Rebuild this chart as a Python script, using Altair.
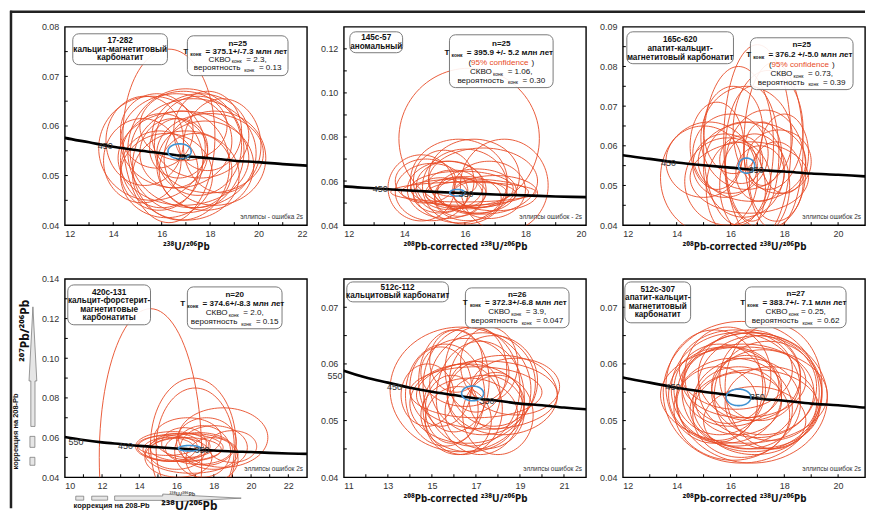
import numpy as np
import pandas as pd
import altair as alt

FONT = "Liberation Sans"
SUPFONT = "Noto Sans"
W, H = 243, 199
RED = "#e84b26"
BLUE = "#3f92d2"
INK = "#111111"
FS = 8.1
SFS = 5.0
LFS = 8.2

# Concordia curve
CONC_X = [10, 11, 12, 13, 14, 15, 16, 17, 18, 19, 20, 21, 22, 23]
CONC_Y = [0.0603, 0.0588, 0.0576, 0.0567, 0.0558, 0.0551, 0.0545, 0.0539,
          0.0535, 0.0530, 0.0527, 0.0523, 0.0520, 0.0518]

# Panel 1: 17-282
P1_CX = [15.6, 18.2, 17.0, 16.8, 16.3, 17.5, 16.0, 17.8, 16.6, 15.9, 17.3, 16.5, 18.5,
         15.3, 17.0, 16.9, 17.6, 16.2, 18.0, 16.7, 15.8, 17.4, 17.9, 15.2, 16.9]
P1_CY = [0.0555, 0.0535, 0.0550, 0.0520, 0.0580, 0.0560, 0.0530, 0.0520, 0.0570, 0.0510,
         0.0545, 0.0545, 0.0560, 0.0570, 0.0500, 0.0600, 0.0580, 0.0500, 0.0545, 0.0555,
         0.0590, 0.0510, 0.0590, 0.0530, 0.0535]
P1_RX = [2.2, 2.1, 2.4, 2.0, 1.9, 1.8, 1.7, 2.0, 2.3, 1.6, 2.6, 1.4, 1.6, 1.6, 2.2, 1.8,
         2.0, 1.9, 2.2, 1.2, 1.5, 1.5, 1.4, 1.6, 2.7]
P1_RY = [0.0105, 0.0095, 0.0125, 0.0110, 0.0175, 0.0100, 0.0095, 0.0090, 0.0095, 0.0080,
         0.0110, 0.0070, 0.0095, 0.0090, 0.0090, 0.0070, 0.0085, 0.0085, 0.0080, 0.0060,
         0.0075, 0.0075, 0.0080, 0.0085, 0.0095]

# Panel 2: 145c-57
P2_CX = [16.14, 14.56, 17.30, 15.80, 16.30, 15.40, 16.00, 15.90, 16.40, 15.20, 16.80, 15.70,
         15.50, 16.20, 14.90, 16.60, 15.80, 16.00, 15.60, 17.00, 15.30, 16.10, 14.70, 16.50, 15.95]
P2_CY = [0.0793, 0.0569, 0.0580, 0.0600, 0.0620, 0.0560, 0.0550, 0.0565, 0.0555, 0.0535,
         0.0560, 0.0545, 0.0580, 0.0540, 0.0550, 0.0600, 0.0530, 0.0575, 0.0590, 0.0545,
         0.0600, 0.0520, 0.0600, 0.0540, 0.0550]
P2_RX = [2.32, 1.10, 1.45, 1.60, 1.50, 1.30, 2.10, 1.70, 1.30, 0.90, 1.20, 1.00, 1.10, 1.50,
         1.20, 1.80, 0.80, 1.40, 0.80, 1.40, 1.00, 1.10, 1.00, 0.90, 2.40]
P2_RY = [0.0319, 0.0150, 0.0210, 0.0190, 0.0170, 0.0130, 0.0060, 0.0080, 0.0100, 0.0080,
         0.0130, 0.0070, 0.0110, 0.0060, 0.0130, 0.0150, 0.0090, 0.0170, 0.0060, 0.0080,
         0.0140, 0.0100, 0.0100, 0.0060, 0.0045]

# Panel 3: 165c-620
P3_CX = [17.00, 17.60, 16.30, 15.20, 16.80, 16.50, 17.80, 16.00, 16.90, 16.20, 17.30, 15.80,
         16.60, 17.10, 16.40, 18.00, 15.50, 16.70, 17.40, 16.10, 15.90, 17.20, 16.80, 15.00, 17.70]
P3_CY = [0.0610, 0.0600, 0.0600, 0.0520, 0.0560, 0.0540, 0.0560, 0.0580, 0.0500, 0.0490,
         0.0540, 0.0550, 0.0620, 0.0530, 0.0565, 0.0580, 0.0600, 0.0520, 0.0640, 0.0640,
         0.0510, 0.0580, 0.0580, 0.0560, 0.0510]
P3_RX = [1.25, 1.10, 1.30, 1.80, 2.00, 1.50, 1.20, 1.40, 1.30, 1.10, 1.50, 1.20, 1.70, 0.90,
         0.80, 0.90, 1.00, 2.20, 1.30, 1.10, 1.60, 0.70, 1.00, 1.40, 1.00]
P3_RY = [0.0245, 0.0210, 0.0200, 0.0140, 0.0100, 0.0120, 0.0080, 0.0100, 0.0130, 0.0120,
         0.0150, 0.0080, 0.0130, 0.0070, 0.0060, 0.0100, 0.0110, 0.0090, 0.0150, 0.0110,
         0.0110, 0.0080, 0.0170, 0.0090, 0.0100]

# Panel 4: 420c-131
P4_CX = [14.60, 16.90, 17.00, 18.50, 16.20, 16.50, 15.80, 17.20, 16.00, 17.60, 15.60, 16.80,
         18.00, 15.50, 16.40, 17.40, 16.60, 19.00, 16.10, 17.90]
P4_CY = [0.0500, 0.0560, 0.0550, 0.0600, 0.0550, 0.0540, 0.0555, 0.0545, 0.0530, 0.0580,
         0.0540, 0.0520, 0.0550, 0.0560, 0.0570, 0.0530, 0.0600, 0.0555, 0.0500, 0.0490]
P4_RX = [2.75, 2.30, 2.10, 2.40, 2.30, 1.90, 2.00, 1.80, 1.50, 1.60, 1.40, 2.50, 1.80, 1.60,
         1.20, 1.50, 1.80, 1.30, 1.80, 1.40]
P4_RY = [0.0750, 0.0340, 0.0300, 0.0150, 0.0070, 0.0060, 0.0075, 0.0080, 0.0090, 0.0120,
         0.0060, 0.0100, 0.0110, 0.0050, 0.0080, 0.0130, 0.0100, 0.0080, 0.0100, 0.0110]

# Panel 5: 512c-112
P5_CX = [16.30, 17.50, 16.80, 17.20, 16.40, 17.80, 16.00, 18.20, 15.60, 17.00, 16.60, 17.40,
         15.40, 18.80, 16.90, 17.60, 16.20, 17.00, 18.00, 16.50, 15.90, 17.30, 14.80, 17.90,
         16.70, 16.10]
P5_CY = [0.0555, 0.0545, 0.0560, 0.0540, 0.0520, 0.0570, 0.0570, 0.0545, 0.0545, 0.0590,
         0.0530, 0.0515, 0.0560, 0.0560, 0.0545, 0.0600, 0.0500, 0.0550, 0.0510, 0.0585,
         0.0520, 0.0565, 0.0545, 0.0535, 0.0510, 0.0605]
P5_RX = [3.20, 3.20, 2.20, 2.00, 1.80, 2.00, 1.60, 2.50, 1.80, 1.40, 2.60, 1.80, 1.40, 2.00,
         1.20, 1.30, 1.50, 3.00, 1.60, 2.00, 1.20, 2.40, 1.20, 1.20, 2.20, 1.20]
P5_RY = [0.0110, 0.0060, 0.0105, 0.0100, 0.0080, 0.0080, 0.0090, 0.0070, 0.0090, 0.0075,
         0.0070, 0.0065, 0.0070, 0.0050, 0.0060, 0.0065, 0.0060, 0.0045, 0.0070, 0.0060,
         0.0060, 0.0090, 0.0055, 0.0050, 0.0065, 0.0055]

# Panel 6: 512c-307
P6_CX = [16.40, 16.80, 16.20, 17.00, 15.80, 16.60, 17.20, 16.00, 16.50, 16.90, 15.60, 17.40,
         16.30, 16.70, 16.10, 17.10, 15.90, 16.80, 16.40, 17.50, 15.50, 16.60, 17.60, 15.40,
         16.20, 16.90, 16.50]
P6_CY = [0.0550, 0.0540, 0.0555, 0.0560, 0.0545, 0.0530, 0.0550, 0.0560, 0.0570, 0.0520,
         0.0555, 0.0545, 0.0535, 0.0580, 0.0520, 0.0575, 0.0580, 0.0550, 0.0510, 0.0530,
         0.0530, 0.0560, 0.0560, 0.0560, 0.0590, 0.0500, 0.0545]
P6_RX = [2.90, 2.80, 2.40, 2.20, 2.10, 2.00, 1.90, 1.80, 2.30, 2.40, 1.70, 2.00, 1.60, 1.90,
         2.20, 1.50, 1.60, 2.60, 1.80, 1.70, 1.50, 1.30, 1.80, 1.80, 2.10, 1.90, 3.10]
P6_RY = [0.0125, 0.0115, 0.0100, 0.0090, 0.0085, 0.0080, 0.0075, 0.0070, 0.0065, 0.0070,
         0.0080, 0.0095, 0.0060, 0.0080, 0.0090, 0.0075, 0.0085, 0.0105, 0.0075, 0.0065,
         0.0065, 0.0055, 0.0110, 0.0100, 0.0070, 0.0060, 0.0085]

# Concordia-age (blue) ellipses, one per panel
BLUE_CX = [16.74, 15.75, 16.60, 16.70, 16.85, 16.30]
BLUE_CY = [0.0549, 0.0547, 0.0550, 0.0546, 0.0548, 0.0541]
BLUE_RX = [0.48, 0.25, 0.30, 0.60, 0.50, 0.46]
BLUE_RY = [0.0015, 0.0015, 0.0019, 0.0014, 0.0013, 0.00146]

# Age labels on the concordia
AGE_X = [[13.67, 16.88], [13.2, 16.04], [13.7, 16.96], [10.6, 13.26, 17.36],
         [10.6, 13.3, 17.5], [13.86, 17.0]]
AGE_Y = [[0.0559, 0.0537], [0.0563, 0.0543], [0.0557, 0.0540], [0.0580, 0.0555, 0.0538],
         [0.0578, 0.0559, 0.0535], [0.0559, 0.0541]]
AGE_T = [["450", "350"], ["450", "350"], ["450", "350"], ["550", "450", "350"],
         ["550", "450", "350"], ["450", "350"]]

SUB = "конк"
PANELS = [
    dict(cx=P1_CX, cy=P1_CY, rx=P1_RX, ry=P1_RY, xd=[12, 22], yd=[0.04, 0.08],
         xt=[12, 14, 16, 18, 20, 22], yt=[0.04, 0.05, 0.06, 0.07, 0.08], ystep=0.005,
         xtitle="²³⁸U/²⁰⁶Pb", note="эллипсы - ошибка 2s",
         lbox=(8, 7, 103, 38), lcx=55.5,
         llines=[(14.5, "17-282"), (23, "кальцит-магнетитовый"), (31.5, "карбонатит")],
         sbox=(123, 9, 224, 49), scx=173.5,
         slines=[(17, True, [("n=25", "n")]),
                 (25, True, [("T", "n"), (SUB, "s"), (" = 375.1+/-7.3 млн лет", "n")]),
                 (33, False, [("СКВО", "n"), (SUB, "s"), (" = 2.3,", "n")]),
                 (41.5, False, [("вероятность", "n"), (SUB, "s"), (" = 0.13", "n")])]),
    dict(cx=P2_CX, cy=P2_CY, rx=P2_RX, ry=P2_RY, xd=[12, 20], yd=[0.04, 0.13],
         xt=[12, 14, 16, 18, 20], yt=[0.04, 0.06, 0.08, 0.10, 0.12], ystep=0.01,
         xtitle="²⁰⁸Pb-corrected ²³⁸U/²⁰⁶Pb", note="эллипсы ошибок - 2s",
         lbox=(6, 5, 59, 26), lcx=32.5,
         llines=[(11.5, "145c-57"), (20, "аномальный")],
         sbox=(106, 8, 210, 61), scx=158,
         slines=[(17, True, [("n=25", "n")]),
                 (26, True, [("T", "n"), (SUB, "s"), (" = 395.9 +/- 5.2 млн лет", "n")]),
                 (36.5, False, [("(", "n"), ("95% confidence", "r"), (")", "n")]),
                 (45.5, False, [("СКВО", "n"), (SUB, "s"), (" = 1.06,", "n")]),
                 (54, False, [("вероятность", "n"), (SUB, "s"), (" = 0.30", "n")])]),
    dict(cx=P3_CX, cy=P3_CY, rx=P3_RX, ry=P3_RY, xd=[12, 21], yd=[0.04, 0.09],
         xt=[12, 14, 16, 18, 20], yt=[0.04, 0.05, 0.06, 0.07, 0.08, 0.09], ystep=0.005,
         xtitle="²⁰⁸Pb-corrected ²³⁸U/²⁰⁶Pb", note="эллипсы ошибок 2s",
         lbox=(4, 5, 111, 37), lcx=57.5,
         llines=[(13, "165c-620"), (22.5, "апатит-кальцит-"), (31, "магнетитовый карбонатит")],
         sbox=(128, 11, 231, 63), scx=179.5,
         slines=[(18.5, True, [("n=25", "n")]),
                 (28, True, [("T", "n"), (SUB, "s"), (" = 376.2 +/-5.0 млн лет", "n")]),
                 (38, False, [("(", "n"), ("95% confidence", "r"), (")", "n")]),
                 (47.5, False, [("СКВО", "n"), (SUB, "s"), (" = 0.73,", "n")]),
                 (56, False, [("вероятность", "n"), (SUB, "s"), (" = 0.39", "n")])]),
    dict(cx=P4_CX, cy=P4_CY, rx=P4_RX, ry=P4_RY, xd=[10, 23], yd=[0.04, 0.14],
         xt=[10, 12, 14, 16, 18, 20, 22], yt=[0.04, 0.06, 0.08, 0.10, 0.12, 0.14], ystep=0.01,
         xtitle=None, note="эллипсы ошибок 2s",
         lbox=(3, 6, 86, 46), lcx=44.5,
         llines=[(14, "420c-131"), (22.5, "кальцит-форстерит-"), (31, "магнетитовые"),
                 (39.5, "карбонатиты")],
         sbox=(123, 8, 218, 50), scx=170.5,
         slines=[(16, True, [("n=20", "n")]),
                 (25, True, [("T", "n"), (SUB, "s"), (" = 374.6+/-8.3 млн лет", "n")]),
                 (34, False, [("СКВО", "n"), (SUB, "s"), (" = 2.0,", "n")]),
                 (43, False, [("вероятность", "n"), (SUB, "s"), (" = 0.15", "n")])]),
    dict(cx=P5_CX, cy=P5_CY, rx=P5_RX, ry=P5_RY, xd=[11, 22], yd=[0.04, 0.075],
         xt=[11, 13, 15, 17, 19, 21], yt=[0.04, 0.05, 0.06, 0.07], ystep=0.005,
         xtitle="²⁰⁸Pb-corrected ²³⁸U/²⁰⁶Pb", note="эллипсы ошибок 2s",
         lbox=(3, 3, 105, 23), lcx=54,
         llines=[(9.5, "512c-112"), (17.5, "кальцитовый карбонатит")],
         sbox=(122, 9, 226, 49), scx=174,
         slines=[(16, True, [("n=26", "n")]),
                 (24.5, True, [("T", "n"), (SUB, "s"), (" = 372.3+/-6.8 млн лет", "n")]),
                 (33, False, [("СКВО", "n"), (SUB, "s"), (" = 3.9,", "n")]),
                 (42, False, [("вероятность", "n"), (SUB, "s"), (" = 0.047", "n")])]),
    dict(cx=P6_CX, cy=P6_CY, rx=P6_RX, ry=P6_RY, xd=[12, 21], yd=[0.04, 0.075],
         xt=[12, 14, 16, 18, 20], yt=[0.04, 0.05, 0.06, 0.07], ystep=0.005,
         xtitle="²⁰⁸Pb-corrected ²³⁸U/²⁰⁶Pb", note="эллипсы ошибок 2s",
         lbox=(2, 3, 68, 44), lcx=35,
         llines=[(11, "512c-307"), (19.5, "апатит-кальцит-"), (28, "магнетитовый"),
                 (36.5, "карбонатит")],
         sbox=(123, 8, 224, 49), scx=173.5,
         slines=[(15.5, True, [("n=27", "n")]),
                 (24.5, True, [("T", "n"), (SUB, "s"), (" = 383.7+/- 7.1 млн лет", "n")]),
                 (33, False, [("СКВО", "n"), (SUB, "s"), ("= 0.25,", "n")]),
                 (42, False, [("вероятность", "n"), (SUB, "s"), (" = 0.62", "n")])]),
]

ARROW = ("M0,-1 L0.065,0.24 L0.035,0.24 L0.035,1 L-0.035,1 "
         "L-0.035,0.24 L-0.065,0.24 Z")


def tw(s, size, bold):
    w = 0.0
    for ch in s:
        if ch in " .,:;/|!ilj'I":
            w += 0.28
        elif ch in "-()":
            w += 0.33
        elif ch in "+=":
            w += 0.584
        elif ch in "mwMWмшщжюЖШЩЮ%ы":
            w += 0.8
        elif ch.isupper():
            w += 0.68
        else:
            w += 0.556
    return w * size * (1.06 if bold else 1.0)


def ellipse_df(cx, cy, rx, ry):
    t = np.linspace(0, 2 * np.pi, 97)
    rows = []
    for i in range(len(cx)):
        for k, tt in enumerate(t):
            rows.append(dict(eid=i, k=k, x=cx[i] + rx[i] * np.cos(tt),
                             y=cy[i] + ry[i] * np.sin(tt)))
    return pd.DataFrame(rows)


def one():
    return pd.DataFrame({"a": [0]})


def make_panel(i, p):
    x0, x1 = p["xd"]
    y0, y1 = p["yd"]

    def px2x(px):
        return x0 + px / W * (x1 - x0)

    def py2y(py):
        return y1 - py / H * (y1 - y0)

    xs = alt.Scale(domain=[x0, x1], nice=False, zero=False)
    ys = alt.Scale(domain=[y0, y1], nice=False, zero=False)
    X = alt.X("x:Q", scale=xs,
              axis=alt.Axis(values=p["xt"], format="d", title=p["xtitle"],
                            labelPadding=4, titlePadding=3))
    Y = alt.Y("y:Q", scale=ys,
              axis=alt.Axis(values=p["yt"], format=".2f", title=None, labelPadding=6))

    layers = []
    # minor ticks inside the frame
    xticks = pd.DataFrame({"x": [v for v in range(int(x0) + 1, int(x1))]})
    n = int(round((y1 - y0) / p["ystep"]))
    yticks = pd.DataFrame({"y": [y0 + p["ystep"] * j for j in range(1, n)]})
    layers.append(alt.Chart(xticks).mark_rule(color="black", strokeWidth=1).encode(
        x=X, y=alt.value(H), y2=alt.value(H - 3)))
    layers.append(alt.Chart(yticks).mark_rule(color="black", strokeWidth=1).encode(
        y=Y, x=alt.value(0), x2=alt.value(3)))

    # data ellipses
    layers.append(alt.Chart(ellipse_df(p["cx"], p["cy"], p["rx"], p["ry"]))
                  .mark_line(clip=True, color=RED, strokeWidth=0.9)
                  .encode(x=X, y=Y, detail="eid:N", order="k:Q"))
    # concordia
    conc = pd.DataFrame({"x": CONC_X, "y": CONC_Y})
    layers.append(alt.Chart(conc).mark_line(clip=True, color="black", strokeWidth=2.6,
                                            interpolate="monotone")
                  .encode(x=X, y=Y, order="x:Q"))
    # concordia-age ellipse
    layers.append(alt.Chart(ellipse_df([BLUE_CX[i]], [BLUE_CY[i]], [BLUE_RX[i]], [BLUE_RY[i]]))
                  .mark_line(clip=True, color=BLUE, strokeWidth=1.6)
                  .encode(x=X, y=Y, detail="eid:N", order="k:Q"))
    # age labels
    ages = pd.DataFrame({"x": AGE_X[i], "y": AGE_Y[i], "t": AGE_T[i]})
    layers.append(alt.Chart(ages).mark_text(font=FONT, fontSize=9, color="#333333")
                  .encode(x=X, y=Y, text="t:N"))

    # boxes
    for (bx0, by0, bx1, by1) in (p["lbox"], p["sbox"]):
        layers.append(alt.Chart(one()).mark_rect(cornerRadius=6, fill="white", fillOpacity=0.9,
                                                  stroke="#7a7a7a", strokeWidth=1)
                      .encode(x=alt.value(bx0), x2=alt.value(bx1),
                              y=alt.value(by0), y2=alt.value(by1)))

    # text rows
    rows = []
    for (ypx, s) in p["llines"]:
        rows.append(dict(x=px2x(p["lcx"]), y=py2y(ypx), text=s, size=LFS, color=INK,
                         bold=True, align="center"))
    for (ypx, bold, segs) in p["slines"]:
        if len(segs) == 1:
            rows.append(dict(x=px2x(p["scx"]), y=py2y(ypx), text=segs[0][0], size=FS,
                             color=INK, bold=bold, align="center"))
            continue
        sizes = [SFS if st == "s" else FS for _, st in segs]
        widths = [tw(t, sz, bold) + (2.4 if st == "s" else 0)
                  for (t, st), sz in zip(segs, sizes)]
        cur = p["scx"] - sum(widths) / 2
        for (t, st), sz, w in zip(segs, sizes, widths):
            lead = len(t) - len(t.lstrip(" "))
            xoff = lead * 0.28 * sz + (1.2 if st == "s" else 0)
            rows.append(dict(x=px2x(cur + xoff), y=py2y(ypx + (1.8 if st == "s" else 0)),
                             text=t.strip(" "), size=sz, color=(RED if st == "r" else INK),
                             bold=bold, align="left"))
            cur += w
    tdf = pd.DataFrame(rows)
    for bold in (True, False):
        for align in ("center", "left"):
            sub = tdf[(tdf["bold"] == bold) & (tdf["align"] == align)]
            if len(sub) == 0:
                continue
            layers.append(alt.Chart(sub.drop(columns=["bold", "align"]))
                          .mark_text(font=FONT, fontWeight=("bold" if bold else "normal"),
                                     align=align, baseline="middle")
                          .encode(x=X, y=Y, text="text:N",
                                  size=alt.Size("size:Q", scale=None),
                                  color=alt.Color("color:N", scale=None)))

    # note bottom-right
    layers.append(alt.Chart(one()).mark_text(font=FONT, fontSize=6.5, color="#333333",
                                              align="right", baseline="middle")
                  .encode(x=alt.value(W - 4), y=alt.value(H - 8), text=alt.value(p["note"])))

    if i == 0:
        # outer frame of the figure
        layers.append(alt.Chart(one()).mark_rule(color="#222222", strokeWidth=2.5)
                      .encode(x=alt.value(-55), x2=alt.value(803), y=alt.value(-15)))
        layers.append(alt.Chart(one()).mark_rule(color="#222222", strokeWidth=2.5)
                      .encode(x=alt.value(-54), y=alt.value(-16), y2=alt.value(483)))

    if i == 3:
        # y-axis title with correction arrow
        layers.append(alt.Chart(one()).mark_point(shape=ARROW, size=14400, filled=True,
                                                   fill="#e6e6e6", stroke="#6f6f6f",
                                                   strokeWidth=0.7, opacity=1)
                      .encode(x=alt.value(-32), y=alt.value(88)))
        for (a, b) in ((158, 169), (179, 187)):
            layers.append(alt.Chart(one()).mark_rect(fill="#e6e6e6", stroke="#6f6f6f",
                                                      strokeWidth=0.7)
                          .encode(x=alt.value(-35), x2=alt.value(-30),
                                  y=alt.value(a), y2=alt.value(b)))
        layers.append(alt.Chart(one()).mark_text(font=SUPFONT, fontSize=12, fontWeight="bold",
                                                  angle=270, color=INK, baseline="middle")
                      .encode(x=alt.value(-40), y=alt.value(52), text=alt.value("²⁰⁷Pb/²⁰⁶Pb")))
        layers.append(alt.Chart(one()).mark_text(font=FONT, fontSize=7.5, fontWeight="bold",
                                                  angle=270, color=INK, baseline="middle")
                      .encode(x=alt.value(-49), y=alt.value(153),
                              text=alt.value("коррекция на 208-Pb")))
        # x-axis title with correction arrow
        for (a, b) in ((11, 19), (27, 43)):
            layers.append(alt.Chart(one()).mark_rect(fill="#e6e6e6", stroke="#6f6f6f",
                                                      strokeWidth=0.7)
                          .encode(x=alt.value(a), x2=alt.value(b),
                                  y=alt.value(218), y2=alt.value(222)))
        layers.append(alt.Chart(one()).mark_point(shape=ARROW, size=16129, filled=True,
                                                   fill="#e6e6e6", stroke="#6f6f6f",
                                                   strokeWidth=0.7, opacity=1, angle=90)
                      .encode(x=alt.value(113.5), y=alt.value(220)))
        layers.append(alt.Chart(one()).mark_text(font=SUPFONT, fontSize=5.5, fontWeight="bold",
                                                  color="#555555", baseline="middle")
                      .encode(x=alt.value(118), y=alt.value(215.5), text=alt.value("²³⁸U/²⁰⁶Pb")))
        layers.append(alt.Chart(one()).mark_text(font=FONT, fontSize=7.5, fontWeight="bold",
                                                  color=INK, baseline="middle")
                      .encode(x=alt.value(47), y=alt.value(228),
                              text=alt.value("коррекция на 208-Pb")))
        layers.append(alt.Chart(one()).mark_text(font=SUPFONT, fontSize=12, fontWeight="bold",
                                                  color=INK, baseline="middle")
                      .encode(x=alt.value(125), y=alt.value(228),
                              text=alt.value("²³⁸U/²⁰⁶Pb")))

    return alt.layer(*layers).properties(width=W, height=H)


panels = [make_panel(i, p) for i, p in enumerate(PANELS)]

chart = (alt.concat(*panels, columns=3, spacing={"row": 54, "column": 37},
                    bounds="flush", padding=0)
         .configure(font=FONT)
         .configure_view(stroke="black", strokeWidth=1.4)
         .configure_axis(domain=False, grid=False, ticks=False, labelFont=FONT,
                         labelFontSize=9, labelColor="#333333", titleFont=SUPFONT,
                         titleFontSize=10, titleFontWeight="bold", titleColor=INK))

chart.save("out.html", embed_options={"renderer": "svg", "actions": False})
